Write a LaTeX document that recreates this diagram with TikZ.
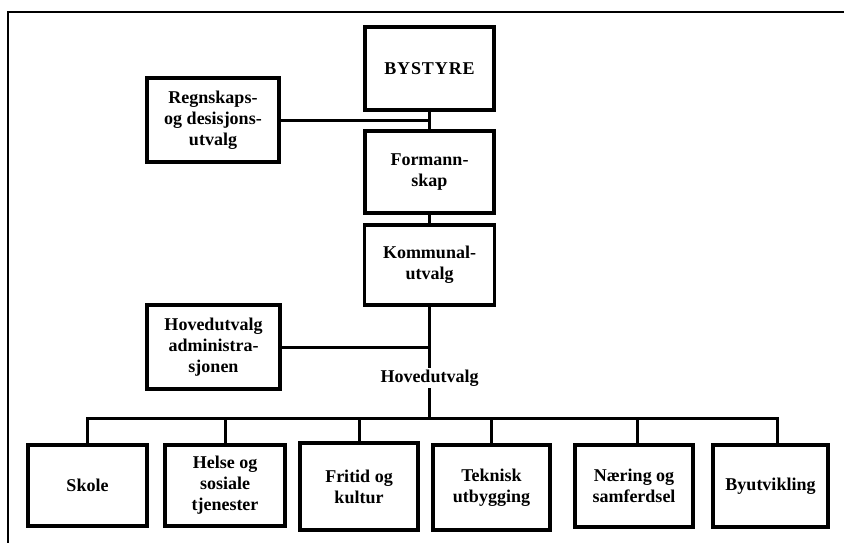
\documentclass[tikz,border=0pt]{standalone}
\usepackage{fontspec}
\setmainfont{Liberation Serif}
\begin{document}
\begin{tikzpicture}[x=1pt,y=-1pt,
  orgbox/.style={draw, line width=3.2pt, align=center, inner sep=0pt,
    font=\bfseries\fontsize{18}{21}\selectfont},
  link/.style={line width=3pt},
  framel/.style={line width=2.4pt}]
\useasboundingbox (0,0) rectangle (844,543);
% frame (open on right and bottom, cropped)
\draw[framel] (8,543) -- (8,12) -- (844,12);
% top column
\node[orgbox, minimum width=129pt, minimum height=83pt] (by) at (429.5,68.5)
  {\addfontfeature{LetterSpace=5}BYSTYRE};
\node[orgbox, minimum width=132pt, minimum height=84pt] (reg) at (213,120)
  {Regnskaps-\\og desisjons-\\utvalg};
\node[orgbox, minimum width=129pt, minimum height=82pt] (form) at (429.5,172)
  {Formann-\\skap};
\node[orgbox, minimum width=130pt, minimum height=80pt] (komm) at (429.5,265)
  {Kommunal-\\utvalg};
\node[orgbox, minimum width=133pt, minimum height=84pt] (hadm) at (213.5,347)
  {Hovedutvalg\\administra-\\sjonen};
\node[font=\bfseries\fontsize{18}{21}\selectfont, inner sep=2pt] (hov) at (429.5,378) {Hovedutvalg};
% bottom row
\node[orgbox, minimum width=119pt, minimum height=81pt] (skole) at (87.5,485.5) {Skole};
\node[orgbox, minimum width=120pt, minimum height=81pt] (helse) at (225,485.5) {Helse og\\sosiale\\tjenester};
\node[orgbox, minimum width=118pt, minimum height=87pt] (fritid) at (359,486.5) {Fritid og\\kultur};
\node[orgbox, minimum width=117pt, minimum height=85pt] (tek) at (491.5,487.5) {Teknisk\\utbygging};
\node[orgbox, minimum width=118pt, minimum height=82pt] (naer) at (634,486) {Næring og\\samferdsel};
\node[orgbox, minimum width=115pt, minimum height=82pt] (byut) at (770.5,486) {Byutvikling};
\coordinate (bus) at (429.5,418);
% connectors
\draw[link] (by.south) -- (form.north);
\draw[link] (form.south) -- (komm.north);
\draw[link] (reg.east) -- (reg.east -| form.north);
\draw[link] (komm.south) -- (hov.north);
\draw[link] (hadm.east) -- (hadm.east -| komm.south);
\draw[link] (hov.south) -- (bus);
\draw[link] (skole.north) -- (skole.north |- bus) -- ([xshift=7pt]byut.north |- bus) -- ([xshift=7pt]byut.north);
\draw[link] (helse.north) -- (helse.north |- bus);
\draw[link] (fritid.north) -- (fritid.north |- bus);
\draw[link] (tek.north) -- (tek.north |- bus);
\draw[link] ([xshift=3pt]naer.north) -- ([xshift=3pt]naer.north |- bus);
\end{tikzpicture}
\end{document}
